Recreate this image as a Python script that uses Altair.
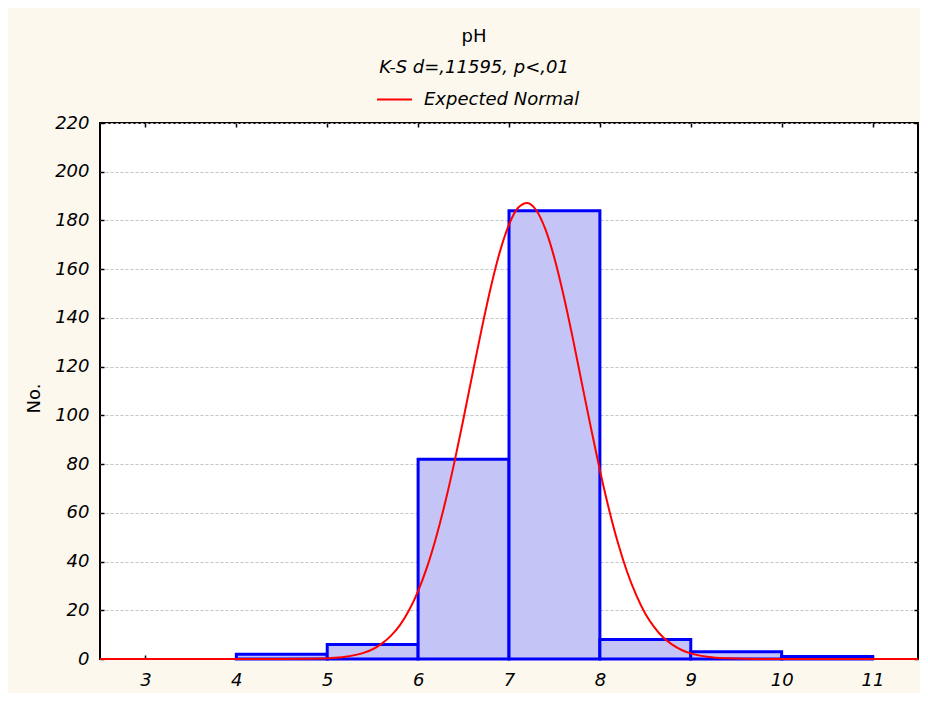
import altair as alt
import pandas as pd

# Histogram bins (pH classes) and counts
bin_start = [4, 5, 6, 7, 8, 9, 10]
bin_end = [5, 6, 7, 8, 9, 10, 11]
counts = [2, 6, 82, 184, 8, 3, 1]

# Expected normal curve
curve_x = [2.5, 4.0, 4.5, 4.8, 5.0, 5.2, 5.4, 5.5, 5.6, 5.7, 5.8, 5.9, 6.0, 6.1,
           6.2, 6.3, 6.4, 6.5, 6.6, 6.7, 6.8, 6.9, 7.0, 7.1, 7.2, 7.3, 7.4, 7.5,
           7.6, 7.7, 7.8, 7.9, 8.0, 8.1, 8.2, 8.3, 8.4, 8.5, 8.6, 8.7, 8.8, 8.9,
           9.0, 9.2, 9.4, 9.6, 10.0, 11.5]
curve_y = [0, 0, 0.01, 0.1, 0.3, 0.9, 2.5, 4.0, 6.3, 9.5, 13.9, 20.0, 27.9, 37.9,
           50.2, 64.6, 80.9, 98.8, 117.3, 135.6, 152.6, 167.2, 178.3, 185.2, 187.2, 184.2, 176.4, 164.5,
           149.3, 132.0, 113.5, 95.1, 77.5, 61.5, 47.5, 35.7, 26.2, 18.6, 13.0, 8.7, 5.8, 3.7,
           2.3, 0.8, 0.26, 0.07, 0, 0]

x_ticks = [3, 4, 5, 6, 7, 8, 9, 10, 11]
y_ticks = [0, 20, 40, 60, 80, 100, 120, 140, 160, 180, 200, 220]

title_text = "pH"
subtitle_text = "K-S d=,11595, p<,01"
legend_label = "Expected Normal"

FONT = "DejaVu Sans"

bars_df = pd.DataFrame({"start": bin_start, "end": bin_end, "count": counts})
curve_df = pd.DataFrame({"x": curve_x, "y": curve_y, "series": [legend_label] * len(curve_x)})

x_scale = alt.Scale(domain=[2.5, 11.5], nice=False, zero=False)
y_scale = alt.Scale(domain=[0, 220], nice=False, zero=False)

bars = alt.Chart(bars_df).mark_rect(
    fill="#c4c4f6", stroke="#0000ff", strokeWidth=3, opacity=1
).encode(
    x=alt.X("start:Q", scale=x_scale, axis=alt.Axis(
        orient="bottom", values=x_ticks, offset=-4, tickSize=4, tickWidth=1.5,
        tickColor="black", domain=False, grid=False, labelPadding=12,
        labelFont=FONT, labelFontSize=18, labelFontStyle="italic", labelColor="black",
        labelFlush=False, labelOverlap=False, title=None)),
    x2="end:Q",
    y=alt.Y("count:Q", scale=y_scale, axis=alt.Axis(
        orient="left", values=y_ticks, offset=-4, tickSize=4, tickWidth=1.5,
        tickColor="black", domain=False, grid=True, gridDash=[3, 2],
        gridColor="#c4c4c4", gridWidth=1, labelPadding=11,
        labelFont=FONT, labelFontSize=18, labelFontStyle="italic", labelColor="black",
        labelFlush=False, labelOverlap=False,
        title="No.", titleFont=FONT, titleFontSize=18, titleFontWeight="normal",
        titleColor="black", titleAngle=270, titleX=-65, titleY=275,
        titleAlign="center", titleBaseline="alphabetic")),
    y2=alt.datum(0),
)

curve = alt.Chart(curve_df).mark_line(
    strokeWidth=2, interpolate="monotone", clip=False
).encode(
    x=alt.X("x:Q", scale=x_scale, axis=alt.Axis(
        orient="top", values=x_ticks, offset=-4, tickSize=4, tickWidth=1.5,
        tickColor="black", domain=False, grid=False, labels=False, title=None)),
    y=alt.Y("y:Q", scale=y_scale, axis=alt.Axis(
        orient="right", values=y_ticks, offset=-4, tickSize=4, tickWidth=1.5,
        tickColor="black", domain=False, grid=False, labels=False, title=None)),
    color=alt.Color("series:N", scale=alt.Scale(domain=[legend_label], range=["#ff0000"]),
                    legend=alt.Legend(
                        orient="none", legendX=276, legendY=-42, title=None,
                        symbolType="stroke", symbolSize=1225, symbolStrokeWidth=2,
                        labelFont=FONT, labelFontSize=18, labelFontStyle="italic",
                        labelColor="black", labelOffset=11, padding=0)),
)

chart = alt.layer(bars, curve).resolve_axis(
    x="independent", y="independent"
).properties(
    width=818,
    height=536,
    title=alt.TitleParams(
        text=title_text, subtitle=subtitle_text, anchor="middle", frame="group",
        dx=-35, offset=4, font=FONT, fontSize=18, fontWeight="normal", color="black",
        subtitleFont=FONT, subtitleFontSize=18, subtitleFontStyle="italic",
        subtitleColor="black", subtitlePadding=13),
    autosize=alt.AutoSizeParams(type="none"),
    padding={"left": 92, "top": 115, "right": 2, "bottom": 34},
    background="#fdf8ee",
).configure_view(
    stroke="black", strokeWidth=2, fill="white"
)

chart.save("out.html", embed_options={"renderer": "svg", "actions": False})
